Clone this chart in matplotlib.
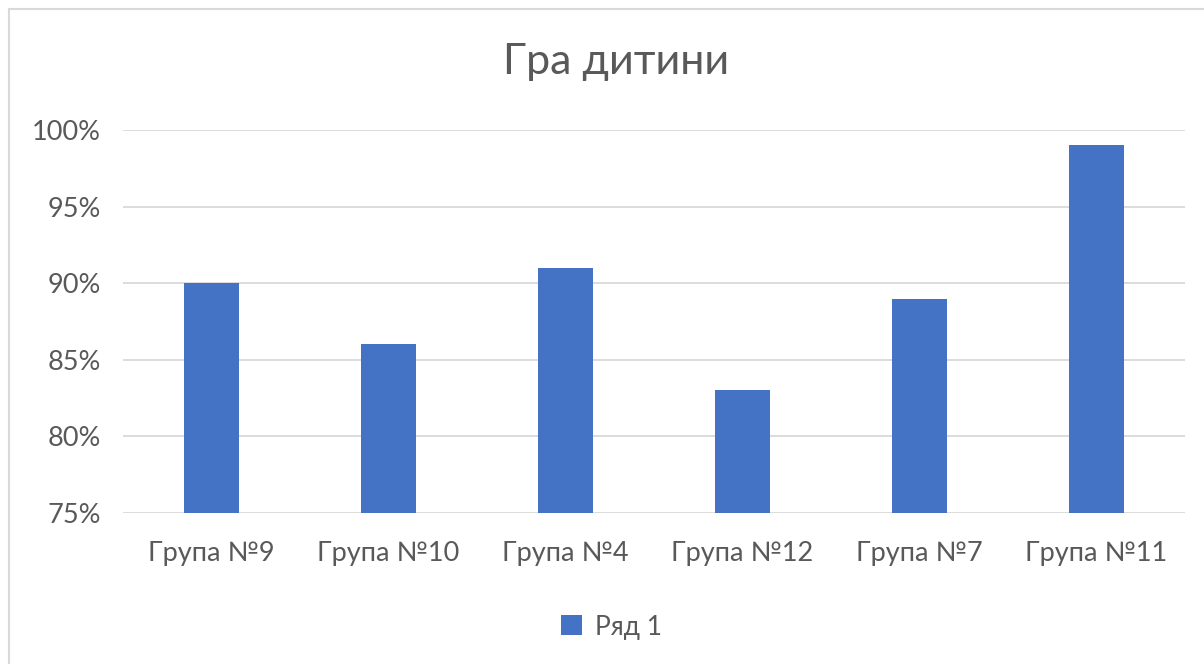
import matplotlib.pyplot as plt
from matplotlib.patches import Rectangle
from matplotlib.ticker import PercentFormatter

# Дані
groups = ['Група №9', 'Група №10', 'Група №4', 'Група №12', 'Група №7', 'Група №11']
values = [0.90, 0.86, 0.91, 0.83, 0.89, 0.99]
y_ticks = [0.75, 0.80, 0.85, 0.90, 0.95, 1.00]

text_color = '#595959'
bar_color = '#4472C4'
grid_color = '#d9d9d9'

plt.rcParams['font.family'] = ['Lato', 'DejaVu Sans']

fig = plt.figure(figsize=(12.04, 6.64), dpi=100)

# рамка діаграми
fig.patches.append(Rectangle((9 / 1204, -0.05), 1.2, 1.05 - 9 / 664,
                             transform=fig.transFigure, fill=False,
                             edgecolor='#d9d9d9', linewidth=1.5))

ax = fig.add_axes([123 / 1204, 1 - 513 / 664, 1062 / 1204, 383 / 664])

x = range(len(groups))
ax.bar(x, values, width=0.31, color=bar_color, label='Ряд 1', zorder=3)

ax.set_xlim(-0.5, len(groups) - 0.5)
ax.set_ylim(0.75, 1.0)
ax.set_yticks(y_ticks)
ax.yaxis.set_major_formatter(PercentFormatter(1.0, decimals=0))
ax.set_xticks(list(x))
ax.set_xticklabels(groups)

ax.grid(axis='y', color=grid_color, linewidth=1.3, zorder=0)
for s in ax.spines.values():
    s.set_visible(False)
ax.tick_params(length=0, colors=text_color)
ax.tick_params(axis='x', pad=20, labelsize=19.5)
ax.tick_params(axis='y', pad=16, labelsize=19.5)

fig.text(0.512, 1 - 62 / 664, 'Гра дитини', ha='center', va='center',
         fontsize=31, color=text_color)

leg = fig.legend(loc='center', bbox_to_anchor=(0.508, 1 - 627 / 664), frameon=False,
                 fontsize=19, handlelength=0.8, handleheight=0.8, handletextpad=0.5)
for t in leg.get_texts():
    t.set_color(text_color)

fig.savefig('out.png', dpi=100)
